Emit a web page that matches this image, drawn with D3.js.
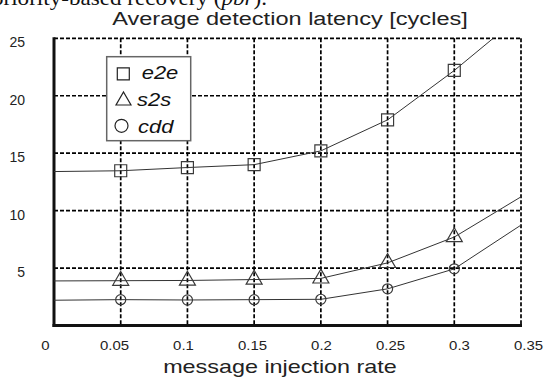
<!DOCTYPE html>
<html>
<head>
<meta charset="utf-8">
<script src="https://cdn.jsdelivr.net/npm/d3@7"></script>
<style>
  html, body { margin: 0; padding: 0; background: #fff; }
  svg { display: block; font-family: "Liberation Sans", Arial, sans-serif; }
</style>
</head>
<body>
<div id="chart"></div>
<script>
// data
const rates = [0, 0.05, 0.1, 0.15, 0.2, 0.25, 0.3, 0.35]
const e2e = [13.4, 13.47, 13.75, 14.0, 15.2, 17.9, 22.2, 27.0]
const s2s = [3.88, 3.9, 3.92, 4.0, 4.1, 5.45, 7.7, 11.2]
const cdd = [2.2, 2.25, 2.22, 2.25, 2.28, 3.19, 4.93, 8.74]
const seriesNames = ['e2e', 's2s', 'cdd']
const xTickLabels = ['0', '0.05', '0.1', '0.15', '0.2', '0.25', '0.3', '0.35']
const yTicks = [5, 10, 15, 20, 25]

const width = 549, height = 381
const plot = {left: 54, right: 521, top: 38.3, bottom: 325.5}

const svg = d3.select('#chart').append('svg')
    .attr('width', width)
    .attr('height', height)

const x = d3.scaleLinear().domain([0, 0.35]).range([plot.left, plot.right])
const y = d3.scaleLinear().domain([0, 25]).range([plot.bottom, plot.top])
// the tick labels of the scanned figure are spread a little wider than the grid
const xLabel = d3.scaleLinear().domain([0, 0.35]).range([45, 528])

// clipped caption text from the page above the figure
const caption = svg.append('text')
    .attr('transform', 'translate(267,5) scale(1.1,1)')
    .attr('text-anchor', 'end')
    .attr('font-family', '"Liberation Serif", "Times New Roman", serif')
    .attr('font-size', 21)
    .attr('fill', '#111')
caption.append('tspan').text('priority-based recovery (')
caption.append('tspan').attr('font-style', 'italic').text('pbr')
caption.append('tspan').text(').')

// title
svg.append('text')
    .attr('transform', 'translate(290,25) scale(1.24,1)')
    .attr('text-anchor', 'middle')
    .attr('font-size', 19)
    .attr('fill', '#222')
    .text('Average detection latency [cycles]')

// grid (dashed)
const grid = svg.append('g')
    .attr('stroke', '#000')
    .attr('stroke-width', 1.7)
    .attr('stroke-dasharray', '4,2')

grid.selectAll('line.v')
    .data(rates.slice(1))
    .join('line')
    .attr('class', 'v')
    .attr('x1', d => x(d)).attr('x2', d => x(d))
    .attr('y1', plot.top).attr('y2', plot.bottom)

grid.selectAll('line.h')
    .data(yTicks)
    .join('line')
    .attr('class', 'h')
    .attr('x1', plot.left).attr('x2', plot.right)
    .attr('y1', d => y(d)).attr('y2', d => y(d))

// solid left and bottom axes
svg.append('line')
    .attr('x1', plot.left).attr('x2', plot.left)
    .attr('y1', plot.top - 1).attr('y2', plot.bottom + 1.5)
    .attr('stroke', '#111').attr('stroke-width', 3)
svg.append('line')
    .attr('x1', plot.left - 1.5).attr('x2', plot.right + 1)
    .attr('y1', plot.bottom).attr('y2', plot.bottom)
    .attr('stroke', '#111').attr('stroke-width', 3)

// tick labels
const xAxis = svg.append('g')
    .attr('transform', 'translate(0,340)')
    .call(d3.axisBottom(xLabel).tickValues(rates).tickSize(0).tickPadding(1)
        .tickFormat((d, i) => xTickLabels[i]))
xAxis.select('.domain').remove()
xAxis.selectAll('text')
    .attr('font-size', 13)
    .attr('font-family', '"Liberation Sans", Arial, sans-serif')
    .attr('fill', '#222')
    .attr('transform', 'scale(1.15,1)')

const yAxis = svg.append('g')
    .attr('transform', 'translate(' + plot.left + ',0)')
    .call(d3.axisLeft(y).tickValues(yTicks).tickSize(0).tickPadding(29))
yAxis.select('.domain').remove()
yAxis.selectAll('text')
    .attr('font-size', 14)
    .attr('font-family', '"Liberation Sans", Arial, sans-serif')
    .attr('fill', '#222')
    .attr('dy', '0.6em')

// x axis title
svg.append('text')
    .attr('transform', 'translate(280,373) scale(1.23,1)')
    .attr('text-anchor', 'middle')
    .attr('font-size', 19)
    .attr('fill', '#222')
    .text('message injection rate')

// series
svg.append('clipPath').attr('id', 'plotclip')
    .append('rect')
    .attr('x', plot.left).attr('y', plot.top)
    .attr('width', plot.right - plot.left).attr('height', plot.bottom - plot.top)

const series = [
    {name: seriesNames[0], values: e2e, symbol: d3.symbolSquare, size: 144},
    {name: seriesNames[1], values: s2s, symbol: d3.symbolTriangle, size: 111},
    {name: seriesNames[2], values: cdd, symbol: d3.symbolCircle, size: 80}
]

const line = d3.line()
    .x((d, i) => x(rates[i]))
    .y(d => y(d))

const lines = svg.append('g').attr('clip-path', 'url(#plotclip)')
series.forEach(s => {
    lines.append('path')
        .datum(s.values)
        .attr('fill', 'none')
        .attr('stroke', '#333')
        .attr('stroke-width', 1)
        .attr('d', line)

    // markers only at the measured rates (not at the line ends)
    lines.selectAll(null)
        .data(s.values.slice(1, 7))
        .join('path')
        .attr('transform', (d, i) => 'translate(' + x(rates[i + 1]) + ',' + y(d) + ')')
        .attr('d', d3.symbol().type(s.symbol).size(s.size))
        .attr('fill', 'none')
        .attr('stroke', '#3a3a3a')
        .attr('stroke-width', 1.2)
})

// legend
const legend = svg.append('g')
legend.append('rect')
    .attr('x', 106.7).attr('y', 56.7)
    .attr('width', 84).attr('height', 84)
    .attr('fill', '#fff')
    .attr('stroke', '#666')
    .attr('stroke-width', 1.5)

const legendSizes = [144, 97, 133]
const legendRows = [
    {sx: 123.3, sy: 73.8, tx: 141.7, ty: 79},
    {sx: 123.5, sy: 100.7, tx: 137, ty: 106},
    {sx: 121.5, sy: 125.8, tx: 138, ty: 132.7}
]
series.forEach((s, i) => {
    const r = legendRows[i]
    legend.append('path')
        .attr('transform', 'translate(' + r.sx + ',' + r.sy + ')')
        .attr('d', d3.symbol().type(s.symbol).size(legendSizes[i]))
        .attr('fill', 'none')
        .attr('stroke', '#222')
        .attr('stroke-width', 1.2)
    legend.append('text')
        .attr('transform', 'translate(' + r.tx + ',' + r.ty + ') scale(1.22,1)')
        .attr('font-size', 18)
        .attr('font-style', 'italic')
        .attr('fill', '#111')
        .text(s.name)
})
</script>
</body>
</html>
